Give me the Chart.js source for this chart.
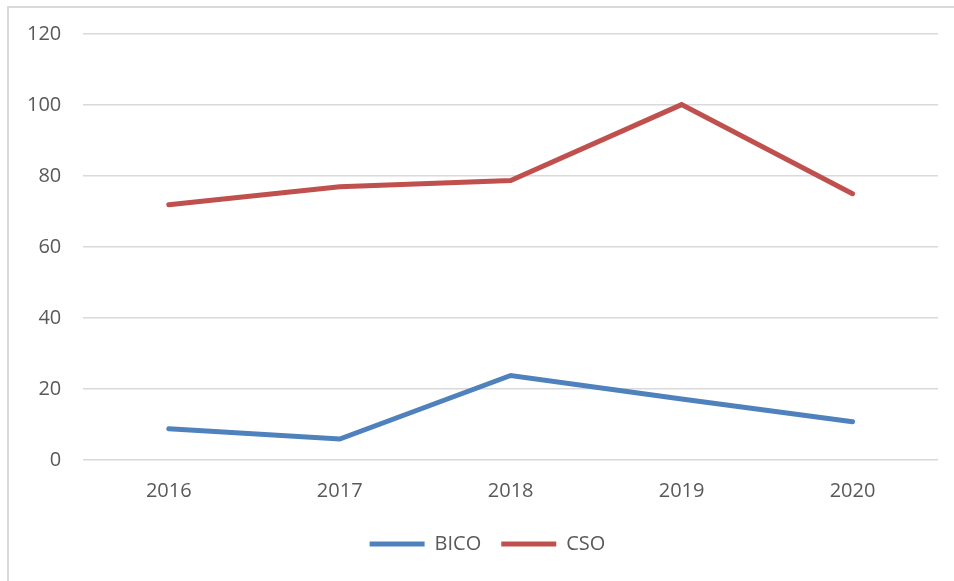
<!DOCTYPE html>
<html>
<head>
<meta charset="utf-8">
<script src="https://cdn.jsdelivr.net/npm/chart.js@4/dist/chart.umd.min.js"></script>
<style>
  html, body { margin: 0; padding: 0; background: #fff; }
  #frame { position: absolute; left: 7px; top: 6px; width: 960px; height: 590px;
           border-left: 2px solid #d9d9d9; border-top: 2px solid #d9d9d9; }
  #wrap { position: absolute; left: 0; top: 0; width: 954px; height: 581px; }
</style>
</head>
<body>
<div id="frame"></div>
<div id="wrap"><canvas id="myChart"></canvas></div>
<script>
// years on the x axis
const years = ['2016', '2017', '2018', '2019', '2020'];
// values
const bico = [8.8, 5.9, 23.8, 17.2, 10.8];
const cso = [71.9, 77.0, 78.7, 100.1, 75.0];
const yTicks = [0, 20, 40, 60, 80, 100, 120];

const fnt = { family: 'Open Sans', size: 20 };

// legend sits a bit right of centre in the original
const legendShift = {
    id: 'legendShift',
    afterLayout(chart) {
        chart.legend.left += 16;
        chart.legend.right += 16;
    }
};

const ctx = document.getElementById('myChart').getContext('2d');
const myChart = new Chart(ctx, {
    type: 'line',
    data: {
        labels: years,
        datasets: [{
            label: 'BICO',
            data: bico,
            borderColor: '#4f81bd',
            backgroundColor: '#4f81bd',
            borderWidth: 5,
            borderCapStyle: 'round',
            pointRadius: 0,
            pointStyle: 'line',
            tension: 0
        }, {
            label: 'CSO',
            data: cso,
            borderColor: '#c0504d',
            backgroundColor: '#c0504d',
            borderWidth: 5,
            borderCapStyle: 'round',
            pointRadius: 0,
            pointStyle: 'line',
            tension: 0
        }]
    },
    options: {
        responsive: true,
        maintainAspectRatio: false,
        animation: false,
        layout: { padding: { left: 5, right: 16, top: 31, bottom: 17 } },
        plugins: {
            tooltip: { enabled: false },
            legend: {
                position: 'bottom',
                labels: {
                    usePointStyle: true,
                    pointStyleWidth: 55,
                    color: '#595959',
                    font: fnt,
                    padding: 20
                }
            }
        },
        scales: {
            x: {
                offset: true,
                grid: { display: false },
                border: { display: false },
                ticks: { color: '#595959', font: fnt, padding: 11 }
            },
            y: {
                min: 0,
                max: 120,
                afterBuildTicks: axis => { axis.ticks = yTicks.map(v => ({ value: v })); },
                grid: { color: '#d9d9d9', lineWidth: 1.5, drawTicks: false },
                border: { display: false },
                ticks: { color: '#595959', font: fnt, padding: 22 }
            }
        }
    },
    plugins: [legendShift]
});
</script>
</body>
</html>
